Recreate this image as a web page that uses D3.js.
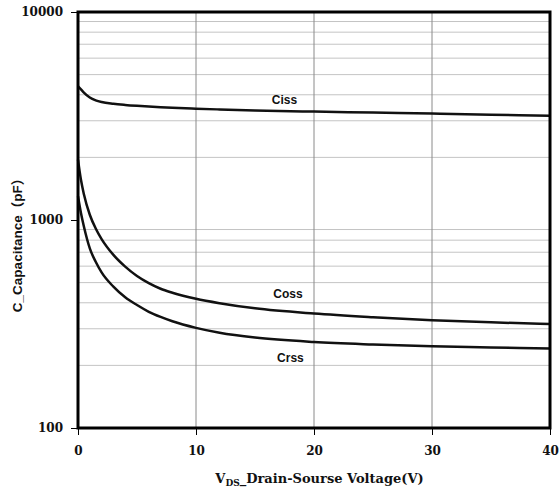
<!DOCTYPE html>
<html><head><meta charset="utf-8">
<script src="https://cdn.jsdelivr.net/npm/d3@7"></script>
<style>body{margin:0;background:#fff}svg{display:block}</style>
</head><body>
<svg id="c" width="559" height="493"></svg>
<script>
const vds  = [0, 0.25, 0.5, 1, 1.5, 2, 3, 4, 5, 6, 7, 8, 10, 12, 15, 20, 25, 30, 35, 40];
const ciss = [4400, 4250, 4100, 3880, 3760, 3690, 3620, 3575, 3540, 3510, 3485, 3465, 3430, 3400, 3365, 3320, 3285, 3250, 3210, 3170];
const coss = [1950, 1560, 1330, 1060, 910, 810, 680, 597, 538, 497, 467, 447, 418, 398, 376, 355, 341, 330, 322, 316];
const crss = [1300, 1080, 930, 730, 630, 560, 478, 425, 390, 362, 342, 326, 303, 287, 272, 259, 252, 247, 244, 241];
const xTicks = [0, 10, 20, 30, 40];
const yTicks = [100, 1000, 10000];
const series = [
  {name: "Ciss", values: ciss, lx: 17.5, ly: 3600},
  {name: "Coss", values: coss, lx: 17.8, ly: 422},
  {name: "Crss", values: crss, lx: 18.0, ly: 208}
];

const svg = d3.select("#c");
const m = {l: 78, r: 9, t: 12, b: 65};
const W = 559, H = 493;
const x = d3.scaleLinear().domain([0, 40]).range([m.l, W - m.r]);
const y = d3.scaleLog().domain([100, 10000]).range([H - m.b, m.t]);

// horizontal minor grid
const minor = [];
for (let d = 100; d < 10000; d *= 10) for (let k = 2; k <= 9; k++) minor.push(d * k);
svg.append("g").selectAll("line").data(minor).join("line")
  .attr("x1", x(0)).attr("x2", x(40))
  .attr("y1", d => y(d)).attr("y2", d => y(d))
  .attr("stroke", "#c4c4c4").attr("stroke-width", 1);
// vertical grid
svg.append("g").selectAll("line").data(xTicks.slice(1, -1)).join("line")
  .attr("x1", d => x(d)).attr("x2", d => x(d))
  .attr("y1", y(100)).attr("y2", y(10000))
  .attr("stroke", "#8a8a8a").attr("stroke-width", 1);

// curves
const line = d3.line().x((d, i) => x(vds[i])).y(d => y(d)).curve(d3.curveMonotoneX);
svg.append("g").selectAll("path").data(series).join("path")
  .attr("d", s => line(s.values))
  .attr("fill", "none").attr("stroke", "#111").attr("stroke-width", 2.5);

// frame
svg.append("rect").attr("x", x(0)).attr("y", y(10000))
  .attr("width", x(40) - x(0)).attr("height", y(100) - y(10000))
  .attr("fill", "none").attr("stroke", "#000").attr("stroke-width", 3);

// axes
const tickFont = "'DejaVu Serif', serif";
const xAxis = svg.append("g").attr("transform", `translate(0,${y(100)})`)
  .call(d3.axisBottom(x).tickValues(xTicks).tickSize(7).tickPadding(11).tickFormat(d3.format("d")));
const yAxis = svg.append("g").attr("transform", `translate(${x(0)},0)`)
  .call(d3.axisLeft(y).tickValues(yTicks).tickSize(7).tickPadding(8).tickFormat(d3.format("d")));
[xAxis, yAxis].forEach(g => {
  g.select(".domain").remove();
  g.selectAll(".tick line").attr("stroke", "#000").attr("stroke-width", 1);
  g.selectAll(".tick text").attr("fill", "#111").attr("font-family", tickFont)
    .attr("font-weight", "bold").attr("font-size", 12);
});

// series labels
svg.append("g").selectAll("text").data(series).join("text")
  .attr("x", s => x(s.lx)).attr("y", s => y(s.ly))
  .attr("text-anchor", "middle")
  .attr("font-family", "'Liberation Sans', Arial, sans-serif")
  .attr("font-weight", "bold").attr("font-size", 12).attr("fill", "#111")
  .text(s => s.name);

// x title
const xt = svg.append("text").attr("x", 319.5).attr("y", 483)
  .attr("text-anchor", "middle").attr("font-family", tickFont)
  .attr("font-weight", "bold").attr("font-size", 13).attr("fill", "#111");
xt.append("tspan").text("V");
xt.append("tspan").attr("font-size", 9).attr("dy", 3).text("DS");
xt.append("tspan").attr("dy", -3).text("_Drain-Sourse Voltage(V)");

// y title
svg.append("text").attr("transform", "translate(22,242) rotate(-90)")
  .attr("text-anchor", "middle")
  .attr("font-family", "'Liberation Sans', Arial, 'Noto Sans CJK SC', sans-serif")
  .attr("font-weight", "bold").attr("font-size", 13.5).attr("fill", "#111")
  .text("C_Capacitance（pF）");
</script>
</body></html>
